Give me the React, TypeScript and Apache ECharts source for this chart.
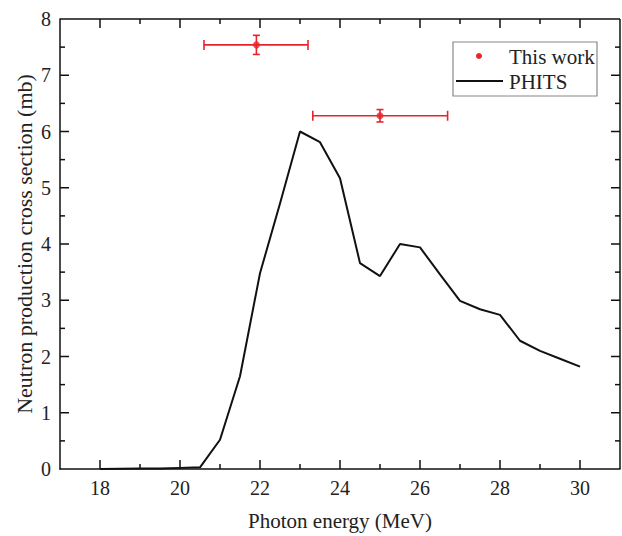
import React, { useEffect, useRef, useState } from "react";
import * as echarts from "echarts";

// PHITS calculation
const energy = [18, 18.5, 19, 19.5, 20, 20.5, 21, 21.5, 22, 22.5, 23, 23.5, 24, 24.5, 25, 25.5, 26, 26.5, 27, 27.5, 28, 28.5, 29, 29.5, 30];
const phits = [0.0, 0.005, 0.01, 0.01, 0.02, 0.03, 0.52, 1.65, 3.48, 4.72, 6.0, 5.81, 5.17, 3.66, 3.43, 4.0, 3.94, 3.46, 2.99, 2.84, 2.74, 2.28, 2.1, 1.96, 1.82];

// This work (measurement)
const expEnergy = [21.91, 25.0];
const expXs = [7.54, 6.28];
const expEnergyLo = [20.6, 23.32];
const expEnergyHi = [23.2, 26.69];
const expXsErr = [0.17, 0.11];

// axis ranges and ticks
const xRange = [17, 31];
const yRange = [0, 8];
const xMajorTicks = [18, 20, 22, 24, 26, 28, 30];
const xMinorTicks = [19, 21, 23, 25, 27, 29];
const yMajorTicks = [1, 2, 3, 4, 5, 6, 7];
const yMinorTicks = [0.5, 1.5, 2.5, 3.5, 4.5, 5.5, 6.5, 7.5];

const FONT = '"Liberation Serif", "Times New Roman", serif';
const TEXT = "#222";
const RED = "#e8232a";
const AXIS = "#111";

export default function App() {
  const ref = useRef<HTMLDivElement>(null);
  const [dbg, setDbg] = useState("");
  useEffect(() => {
    if (!ref.current) return;
    const chart = echarts.init(ref.current, null, { renderer: "svg" });
    const lineData = energy.map((e, i) => [e, phits[i]]);
    const expData = expEnergy.map((e, i) => [e, expXs[i], expEnergyLo[i], expEnergyHi[i], expXsErr[i]]);
    chart.setOption({
      animation: false,
      backgroundColor: "#fff",
      grid: { left: 60, top: 19, right: 2, bottom: 67 },
      xAxis: {
        type: "value",
        min: xRange[0],
        max: xRange[1],
        position: "bottom",
        name: "Photon energy (MeV)",
        nameLocation: "middle",
        nameGap: 41,
        nameMoveOverlap: false,
        nameTextStyle: { fontFamily: FONT, fontSize: 21, color: TEXT },
        axisLine: { show: true, onZero: false, lineStyle: { color: AXIS, width: 1.5 } },
        axisTick: { show: false },
        splitLine: { show: false },
        axisLabel: { show: true, customValues: xMajorTicks, margin: 9, fontFamily: FONT, fontSize: 20, color: TEXT },
      },
      yAxis: {
        type: "value",
        min: yRange[0],
        max: yRange[1],
        interval: 1,
        position: "left",
        name: "Neutron production cross section (mb)",
        nameLocation: "middle",
        nameGap: 25,
        nameMoveOverlap: false,
        nameTextStyle: { fontFamily: FONT, fontSize: 22, color: TEXT },
        axisLine: { show: true, onZero: false, lineStyle: { color: AXIS, width: 1.5 } },
        axisTick: { show: false },
        splitLine: { show: false },
        axisLabel: { margin: 9, fontFamily: FONT, fontSize: 20, color: TEXT },
      },
      series: [
        {
          name: "PHITS",
          type: "line",
          data: lineData,
          showSymbol: false,
          symbol: "none",
          lineStyle: { color: AXIS, width: 2 },
          z: 2,
        },
        {
          name: "This work error",
          type: "custom",
          data: expData,
          z: 3,
          renderItem: (params: any, api: any) => {
            const x = api.value(0);
            const y = api.value(1);
            const lo = api.value(2);
            const hi = api.value(3);
            const err = api.value(4);
            const pLo = api.coord([lo, y]);
            const pHi = api.coord([hi, y]);
            const pTop = api.coord([x, y + err]);
            const pBot = api.coord([x, y - err]);
            const style = { stroke: RED, lineWidth: 1.6, fill: "none" };
            const capH = 5;
            const capW = 3.5;
            return {
              type: "group",
              children: [
                { type: "line", shape: { x1: pLo[0], y1: pLo[1], x2: pHi[0], y2: pHi[1] }, style },
                { type: "line", shape: { x1: pLo[0], y1: pLo[1] - capH, x2: pLo[0], y2: pLo[1] + capH }, style },
                { type: "line", shape: { x1: pHi[0], y1: pHi[1] - capH, x2: pHi[0], y2: pHi[1] + capH }, style },
                { type: "line", shape: { x1: pTop[0], y1: pTop[1], x2: pBot[0], y2: pBot[1] }, style },
                { type: "line", shape: { x1: pTop[0] - capW, y1: pTop[1], x2: pTop[0] + capW, y2: pTop[1] }, style },
                { type: "line", shape: { x1: pBot[0] - capW, y1: pBot[1], x2: pBot[0] + capW, y2: pBot[1] }, style },
              ],
            };
          },
        },
        {
          name: "This work",
          type: "scatter",
          data: expEnergy.map((e, i) => [e, expXs[i]]),
          symbol: "circle",
          symbolSize: 7,
          itemStyle: { color: RED },
          z: 4,
        },
      ],
    });

    const px = (x: number, y: number) => chart.convertToPixel({ gridIndex: 0 }, [x, y]) as number[];
    const tl = px(xRange[0], yRange[1]);
    const br = px(xRange[1], yRange[0]);
    const ticks: any[] = [];
    const tickStyle = { stroke: AXIS, lineWidth: 1.5, fill: "none" };
    const addX = (v: number, len: number) => {
      const b = px(v, yRange[0]);
      const t = px(v, yRange[1]);
      ticks.push({ type: "line", shape: { x1: b[0], y1: b[1], x2: b[0], y2: b[1] - len }, style: tickStyle });
      ticks.push({ type: "line", shape: { x1: t[0], y1: t[1], x2: t[0], y2: t[1] + len }, style: tickStyle });
    };
    const addY = (v: number, len: number) => {
      const l = px(xRange[0], v);
      const r = px(xRange[1], v);
      ticks.push({ type: "line", shape: { x1: l[0], y1: l[1], x2: l[0] + len, y2: l[1] }, style: tickStyle });
      ticks.push({ type: "line", shape: { x1: r[0], y1: r[1], x2: r[0] - len, y2: r[1] }, style: tickStyle });
    };
    xMajorTicks.forEach((v) => addX(v, 9));
    xMinorTicks.forEach((v) => addX(v, 5));
    yMajorTicks.forEach((v) => addY(v, 9));
    yMinorTicks.forEach((v) => addY(v, 5));

    chart.setOption({
      graphic: [
        {
          type: "group",
          z: 100,
          children: [
            { type: "line", shape: { x1: tl[0], y1: tl[1], x2: br[0], y2: tl[1] }, style: tickStyle },
            { type: "line", shape: { x1: br[0], y1: tl[1], x2: br[0], y2: br[1] }, style: tickStyle },
            ...ticks.slice(0, 4),
            { type: "rect", shape: { x: 453, y: 42, width: 144, height: 54 }, style: { fill: "#fff", stroke: "#888", lineWidth: 1.2 } },
            { type: "circle", shape: { cx: 479, cy: 56, r: 3 }, style: { fill: RED } },
            { type: "line", shape: { x1: 456, y1: 81, x2: 503, y2: 81 }, style: { stroke: AXIS, lineWidth: 2 } },
            { type: "text", x: 509, y: 57, style: { text: "This work", fill: TEXT, fontFamily: FONT, fontSize: 21, verticalAlign: "middle" } },
            { type: "text", x: 509, y: 82, style: { text: "PHITS", fill: TEXT, fontFamily: FONT, fontSize: 21, verticalAlign: "middle" } },
          ],
        },
        {
          type: "group",
          z: 90,
          children: [
            { type: "rect", shape: { x: tl[0] + 20, y: tl[1] + 20, width: 40, height: 40 }, style: { fill: "rgba(255,255,255,0.3)", stroke: "rgba(255,255,255,0.3)", lineWidth: 1.5 } },
            ...ticks.slice(4),
          ],
        },
      ],
    });
    const svg = ref.current.querySelector("svg");
    const nPath = svg ? svg.querySelectorAll("path").length : -1;
    const dl = (chart as any).getZr().storage.getDisplayList(true).length;
    setDbg(nPath + dl > 0 ? " " : "");
    return () => chart.dispose();
  }, []);
  return (
    <>
      <div ref={ref} style={{ position: "fixed", left: 0, top: 0, width: 622, height: 536 }} />
      <div style={{ position: "fixed", left: 0, bottom: 0, fontSize: 10, fontFamily: "monospace", color: "#fff" }}>{dbg}</div>
    </>
  );
}
